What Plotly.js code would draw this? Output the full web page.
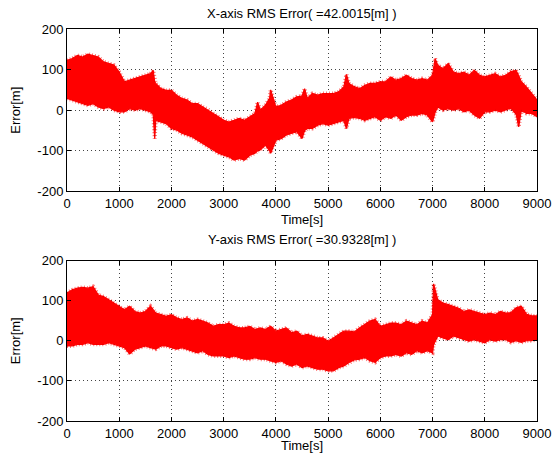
<!DOCTYPE html>
<html>
<head>
<meta charset="utf-8">
<script src="https://cdn.plot.ly/plotly-3.0.1.min.js"></script>
<style>
  html, body { margin: 0; padding: 0; background: #ffffff; }
  #chart { width: 556px; height: 453px; }
</style>
</head>
<body>
<div id="chart"></div>
<script>
// Position error over time, drawn as the upper/lower envelope of the error band [m]

// X-axis error envelope
const timeX = [0,100,200,300,400,500,600,700,800,900,1000,1100,1200,1300,1400,1500,1600,1650,1680,1700,
  1800,1900,2000,2100,2200,2300,2400,2500,2600,2700,2800,2900,3000,3100,3200,3300,3400,3500,3600,3650,
  3700,3800,3880,3900,4000,4100,4200,4300,4400,4500,4550,4600,4700,4800,4900,5000,5100,5200,5300,5350,
  5400,5500,5600,5700,5800,5900,6000,6100,6200,6300,6400,6500,6600,6700,6800,6900,7000,7050,7100,7200,
  7300,7400,7500,7600,7700,7800,7900,8000,8100,8200,8300,8400,8500,8600,8650,8700,8800,8900,9000];
const upperX = [123,127,135,131,138,135,131,119,115,111,94,70,74,78,82,86,90,98,70,66,
  53,49,49,37,29,25,16,16,8,2,-8,-16,-25,-29,-25,-20,-25,-16,-8,20,
  0,12,30,50,8,12,20,25,33,35,53,29,41,37,41,41,41,45,57,88,
  66,58,53,61,66,66,70,70,82,74,78,86,78,74,78,74,86,127,111,102,
  115,94,90,94,86,98,86,82,86,90,82,86,95,98,85,70,57,41,25];
const lowerX = [29,25,20,16,12,16,8,4,8,0,-4,-4,4,0,4,0,-4,-10,-70,-25,
  -29,-33,-45,-49,-57,-61,-66,-74,-82,-90,-98,-106,-111,-115,-123,-119,-123,-111,-106,-100,
  -98,-86,-100,-106,-74,-70,-61,-57,-53,-70,-50,-45,-45,-37,-33,-37,-33,-29,-25,-45,
  -20,-18,-20,-25,-20,-16,-25,-16,-20,-12,-25,-16,-12,-12,-8,-12,-29,-5,8,0,
  4,0,4,-4,0,-12,-20,-4,-4,0,-4,0,5,-10,-41,0,-8,-8,-16];

// Y-axis error envelope
const timeY = [0,100,200,300,400,500,600,700,800,900,1000,1100,1200,1300,1400,1500,1600,1700,1800,1900,
  2000,2100,2200,2300,2400,2500,2600,2700,2800,2900,3000,3100,3200,3300,3400,3500,3600,3700,3800,3900,
  4000,4100,4200,4300,4400,4500,4600,4700,4800,4900,5000,5100,5200,5300,5400,5500,5600,5700,5800,5900,
  6000,6100,6200,6300,6400,6500,6600,6700,6800,6900,7000,7020,7100,7200,7300,7400,7500,7600,7700,7800,
  7900,8000,8100,8200,8300,8400,8500,8600,8700,8800,8900,9000];
const upperY = [119,127,131,133,131,135,114,110,102,94,86,77,86,73,69,73,86,69,65,61,
  65,57,53,57,49,53,49,44,36,40,40,44,36,32,32,36,28,32,28,36,
  24,28,32,20,24,12,16,12,7,7,-1,7,16,24,24,22,32,40,49,53,
  36,40,44,44,40,49,44,40,49,44,65,142,102,94,90,86,81,73,77,73,
  69,65,69,65,73,69,70,82,86,66,62,62];
const lowerY = [-13,-13,-9,-9,-5,-9,-9,-9,-5,-9,-13,-17,-33,-21,-17,-13,-17,-21,-13,-13,
  -17,-21,-17,-21,-25,-30,-25,-34,-38,-38,-38,-42,-38,-42,-46,-46,-42,-46,-46,-50,
  -54,-50,-58,-63,-58,-67,-63,-67,-71,-71,-75,-75,-67,-63,-54,-48,-46,-42,-50,-54,
  -42,-38,-38,-34,-38,-30,-34,-25,-30,-25,-30,-10,12,7,3,12,7,3,-1,3,
  -1,-5,3,-1,3,3,-4,0,-4,0,0,4];

// Axis ticks and titles
const timeTicks = [0,1000,2000,3000,4000,5000,6000,7000,8000,9000];
const errorTicks = [-200,-100,0,100,200];
const errorTickText = ['-200','-100','0','100','200'];
const panelTitles = ['X-axis RMS Error( =42.0015[m] )', 'Y-axis RMS Error( =30.9328[m] )'];

const FONT = 'Liberation Sans, Arial, Helvetica, sans-serif';
const FS = 13;
const RED = '#ff0000';

// Solid band between the envelopes, with a speckled fringe along both edges
function band(t, up, lo, xa, ya) {
  const common = { x: t, xaxis: xa, yaxis: ya, type: 'scatter', mode: 'lines',
                   hoverinfo: 'skip', showlegend: false };
  return [
    Object.assign({}, common, { y: up, line: { color: RED, width: 1.2 } }),
    Object.assign({}, common, { y: lo, fill: 'tonexty', fillcolor: RED,
                                line: { color: RED, width: 1.2 } }),
    Object.assign({}, common, { y: up, line: { color: 'rgba(255,0,0,0.55)', width: 4, dash: '1px,2px' } }),
    Object.assign({}, common, { y: lo, line: { color: 'rgba(255,0,0,0.55)', width: 4, dash: '1px,2px' } }),
    Object.assign({}, common, { y: up, line: { color: 'rgba(150,0,0,0.35)', width: 1, dash: '1px,5px' } }),
    Object.assign({}, common, { y: lo, line: { color: 'rgba(150,0,0,0.35)', width: 1, dash: '1px,5px' } })
  ];
}

function xAxis(anchor) {
  return {
    anchor: anchor, range: [0, 9000], tickvals: timeTicks,
    ticktext: timeTicks.map(String),
    showline: true, mirror: 'ticks', linecolor: '#000', linewidth: 1,
    ticks: 'inside', ticklen: 4, tickcolor: '#000',
    showgrid: true, gridcolor: '#444', griddash: '1px,3px', gridwidth: 1,
    zeroline: false, tickfont: { family: FONT, size: FS, color: '#000' },
    title: { text: 'Time[s]', font: { family: FONT, size: FS, color: '#000' }, standoff: 4 }
  };
}

function yAxis(anchor, domain) {
  return {
    anchor: anchor, domain: domain, range: [-200, 200],
    tickvals: errorTicks, ticktext: errorTickText,
    showline: true, mirror: 'ticks', linecolor: '#000', linewidth: 1,
    ticks: 'inside', ticklen: 4, tickcolor: '#000',
    showgrid: true, gridcolor: '#444', griddash: '1px,3px', gridwidth: 1,
    zeroline: false, tickfont: { family: FONT, size: FS, color: '#000' },
    title: { text: 'Error[m]', font: { family: FONT, size: FS, color: '#000' }, standoff: 13 }
  };
}

const data = band(timeX, upperX, lowerX, 'x', 'y').concat(band(timeY, upperY, lowerY, 'x2', 'y2'));

const layout = {
  width: 556, height: 453,
  margin: { l: 67, r: 18.5, t: 29, b: 31.7 },
  paper_bgcolor: '#ffffff', plot_bgcolor: '#ffffff',
  showlegend: false,
  xaxis: xAxis('y'),
  yaxis: yAxis('x', [0.5858, 1]),
  xaxis2: xAxis('y2'),
  yaxis2: yAxis('x2', [0, 0.4094]),
  annotations: [
    { text: panelTitles[0], xref: 'paper', yref: 'paper', x: 0.5, y: 1.0408,
      xanchor: 'center', yanchor: 'middle', showarrow: false,
      font: { family: FONT, size: FS, color: '#000' } },
    { text: panelTitles[1], xref: 'paper', yref: 'paper', x: 0.5, y: 0.462,
      xanchor: 'center', yanchor: 'middle', showarrow: false,
      font: { family: FONT, size: FS, color: '#000' } }
  ]
};

Plotly.newPlot('chart', data, layout, { displayModeBar: false, staticPlot: true });
</script>
</body>
</html>
